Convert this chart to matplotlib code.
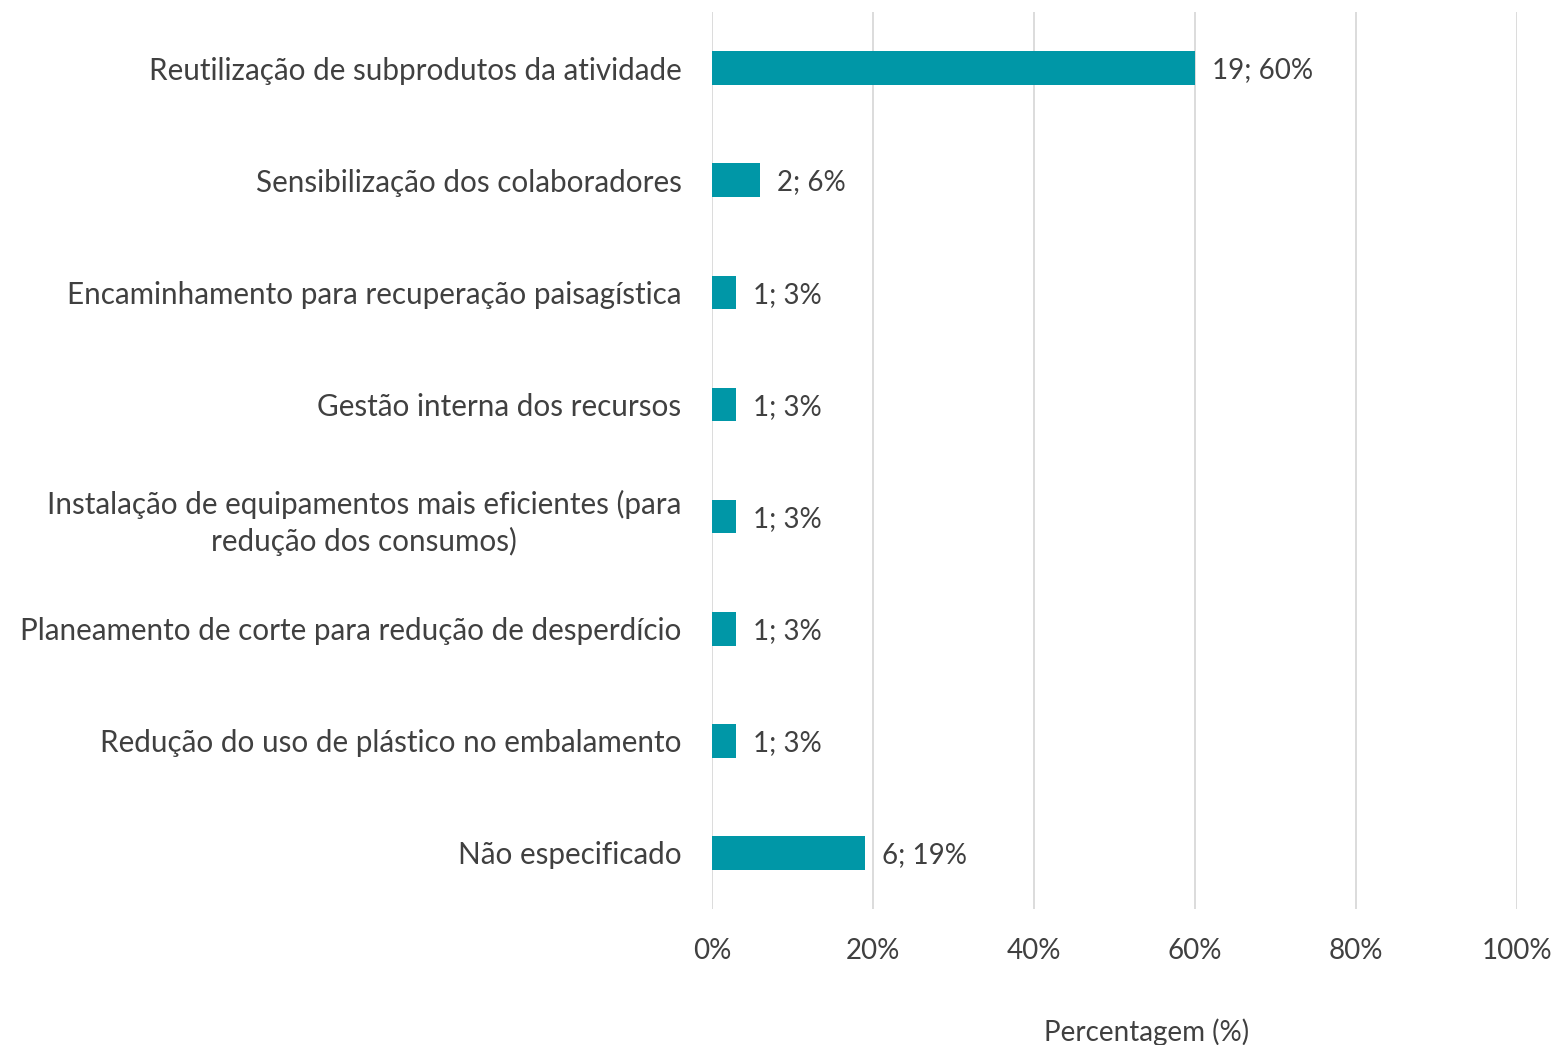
import matplotlib.pyplot as plt
import numpy as np

plt.rcParams['font.family'] = ['Lato', 'DejaVu Sans']

categorias = [
    "Reutilização de subprodutos da atividade",
    "Sensibilização dos colaboradores",
    "Encaminhamento para recuperação paisagística",
    "Gestão interna dos recursos",
    "Instalação de equipamentos mais eficientes (para\nredução dos consumos)",
    "Planeamento de corte para redução de desperdício",
    "Redução do uso de plástico no embalamento",
    "Não especificado",
]
contagens = [19, 2, 1, 1, 1, 1, 1, 6]
percentagens = [60, 6, 3, 3, 3, 3, 3, 19]
ticks_x = [0, 20, 40, 60, 80, 100]

cor_barra = "#0097A7"
cor_texto = "#404040"
fs = 20

fig = plt.figure(figsize=(15.57, 10.45), dpi=100)
ax = fig.add_axes([0.4573, 0.1301, 0.5170, 0.8584])

y = np.arange(len(categorias))
ax.barh(y, percentagens, height=0.30, color=cor_barra, zorder=3)

for yi, c, p in zip(y, contagens, percentagens):
    ax.text(p + 2.1, yi + 0.02, f"{c}; {p}%", va='center', ha='left',
            fontsize=fs, color=cor_texto)

ax.set_ylim(len(categorias) - 0.5, -0.5)
ax.set_xlim(0, 100)
ax.set_yticks(y)
ax.set_yticklabels(categorias, fontsize=21.3, color=cor_texto,
                   multialignment='center', linespacing=1.33)
ax.set_xticks(ticks_x)
ax.set_xticklabels([f"{t}%" for t in ticks_x], fontsize=fs, color=cor_texto)
ax.tick_params(axis='y', length=0, pad=22)
ax.tick_params(axis='x', length=0, pad=21)
ax.grid(axis='x', color='#D9D9D9', linewidth=1.3, zorder=0)
for s in ax.spines.values():
    s.set_visible(False)

ax.set_xlabel("Percentagem (%)", fontsize=fs, color=cor_texto, va='center')
ax.xaxis.set_label_coords(0.540, -0.137)

fig.savefig("out.png", dpi=100)
